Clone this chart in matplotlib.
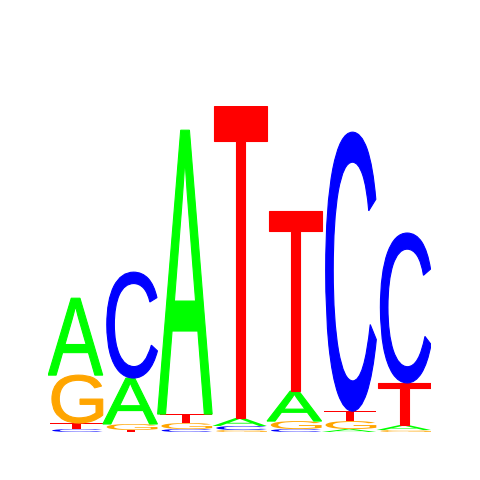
"""Sequence logo recreated with matplotlib glyph paths."""

import matplotlib

matplotlib.use("Agg")
import matplotlib.pyplot as plt
from matplotlib.font_manager import FontProperties
from matplotlib.patches import PathPatch
from matplotlib.textpath import TextPath
from matplotlib.transforms import Affine2D

# information content (bits) per letter at each position
positions = [1, 2, 3, 4, 5, 6, 7]
height_A = [0.472, 0.282, 1.742, 0.049, 0.184, 0.018, 0.031]
height_C = [0.018, 0.650, 0.018, 0.025, 0.018, 1.712, 0.920]
height_G = [0.294, 0.037, 0.037, 0.012, 0.049, 0.049, 0.012]
height_T = [0.037, 0.012, 0.055, 1.914, 1.104, 0.061, 0.258]

colors = {"A": "#00ff00", "C": "#0000ff", "G": "#ffa500", "T": "#ff0000"}
font = FontProperties(family="Liberation Sans", weight="normal")


def draw_letter(ax, letter, x0, y0, width, height):
    path = TextPath((0, 0), letter, size=1, prop=font)
    verts = path.vertices
    xmin, ymin = verts.min(axis=0)
    xmax, ymax = verts.max(axis=0)
    tr = (
        Affine2D()
        .translate(-xmin, -ymin)
        .scale(width / (xmax - xmin), height / (ymax - ymin))
        .translate(x0, y0)
    )
    # thin outline in the fill colour thickens the big letters a little;
    # the squashed ones stay hairline-thin
    lw = 0.8 if height > 0.1 else 0
    patch = PathPatch(
        tr.transform_path(path),
        facecolor=colors[letter],
        edgecolor=colors[letter],
        lw=lw,
    )
    ax.add_patch(patch)


fig = plt.figure(figsize=(4.8, 4.8), dpi=100)
ax = fig.add_axes([0.1, 0.1, 0.798, 0.679])

for i, pos in enumerate(positions):
    stack = {
        "A": height_A[i],
        "C": height_C[i],
        "G": height_G[i],
        "T": height_T[i],
    }
    y = 0.0
    for letter, h in sorted(stack.items(), key=lambda kv: kv[1]):
        draw_letter(ax, letter, pos - 0.5, y, 1.0, h)
        y += h

ax.set_xlim(0.5, 7.5)
ax.set_ylim(0, 2.0)
ax.axis("off")

fig.savefig("out.png", dpi=100)
plt.close(fig)
